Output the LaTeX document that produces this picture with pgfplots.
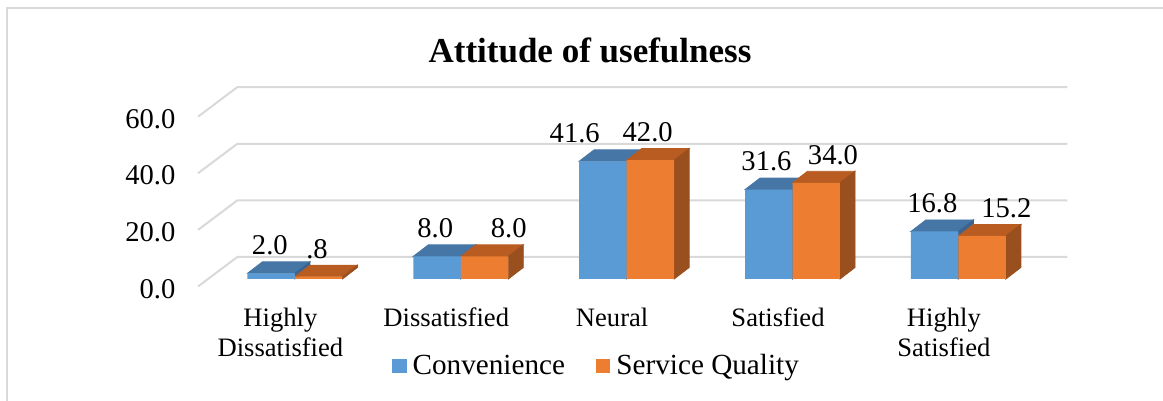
\documentclass[border=0pt]{standalone}
\usepackage{pgfplots}
\pgfplotsset{compat=1.18}
\usepackage{pgfplotstable}
\usepackage{fontspec}
\setmainfont{Liberation Serif}

\definecolor{convfront}{HTML}{5B9BD5}
\definecolor{convtop}{HTML}{4676A5}
\definecolor{convside}{HTML}{3B6491}
\definecolor{servfront}{HTML}{ED7D31}
\definecolor{servtop}{HTML}{B85C22}
\definecolor{servside}{HTML}{9A4F1E}
\definecolor{gridgray}{HTML}{D9D9D9}

\pgfdeclareplotmark{nothing}{}

% category index, Convenience, Service Quality
\pgfplotstableread{
x conv serv
0 2.0  0.8
1 8.0  8.0
2 41.6 42.0
3 31.6 34.0
4 16.8 15.2
}\usefulness

% label positions (as placed in the original chart)
\pgfplotstableread{
x      y    lab
-0.151 2.0  2.0
0.133  0.8  .8
0.846  8.0  8.0
1.289  8.0  8.0
1.687  41.6 41.6
2.127  42.0 42.0
2.843  31.6 31.6
3.244  34.0 34.0
3.843  16.8 16.8
4.289  15.2 15.2
}\labels

\begin{document}
\begin{tikzpicture}
\draw[gridgray, line width=1pt] (3.5pt,-2pt) -- (3.5pt,196.5pt) -- (584pt,196.5pt);
\node[anchor=base, font=\fontsize{17.5}{20}\selectfont\bfseries] at (295pt,169.2pt) {Attitude of usefulness};

\begin{axis}[
    at={(104.5pt,61pt)}, anchor=south west,
    scale only axis,
    width=415pt, height=84.9pt,
    xmin=-0.518, xmax=4.486,
    ymin=0, ymax=60,
    clip=false,
    clip marker paths=true,
    axis line style={draw=none},
    tick style={draw=none},
    major tick length=0pt,
    xtick={0,1,2,3,4},
    xticklabels={{Highly\\Dissatisfied},Dissatisfied,Neural,Satisfied,{Highly\\Satisfied}},
    xticklabel style={align=center, font=\fontsize{13.3}{15}\selectfont, xshift=-7.25pt, yshift=-11pt},
    ytick={0,20,40,60},
    /pgf/number format/assume math mode=true,
    yticklabel style={/pgf/number format/fixed, /pgf/number format/fixed zerofill,
        /pgf/number format/precision=1, font=\fontsize{14.3}{16}\selectfont,
        xshift=-13.25pt, yshift=-4.9pt},
    bar width=0.2861,
    legend columns=2,
    legend style={draw=none, fill=none, at={(0.4675,-0.512)}, anchor=center,
        font=\fontsize{14.6}{16}\selectfont,
        nodes={inner sep=1.5pt},
        /tikz/every odd column/.append style={column sep=1.5pt},
        /tikz/every even column/.append style={column sep=14pt}},
]
% floor and back wall grid
\pgfplotsinvokeforeach{0,20,40,60}{
  \draw[gridgray, line width=1pt]
    ([xshift=-5.5pt,yshift=-3.75pt]axis cs:-0.518,#1) --
    ([xshift=14.15pt,yshift=11pt]axis cs:-0.518,#1) --
    ([xshift=14.15pt,yshift=11pt]axis cs:4.486,#1);
}

% top and side faces
\addplot[scatter, only marks, mark=nothing, forget plot,
    visualization depends on={\thisrow{conv}\as\rawy},
    scatter/@pre marker code/.code={%
      \pgfmathsetlengthmacro\h{\rawy*1.415pt}%
      \fill[convtop] (-23.75pt,0pt) -- (0pt,0pt) -- (7.5pt,5.75pt) -- (-16.25pt,5.75pt) -- cycle;
      \fill[convside] (0pt,0pt) -- (7.5pt,5.75pt) -- (7.5pt,5.75pt-\h) -- (0pt,-\h) -- cycle;
    },
    scatter/@post marker code/.code={},
] table[x=x, y=conv] {\usefulness};
\addplot[scatter, only marks, mark=nothing, forget plot,
    visualization depends on={\thisrow{serv}\as\rawy},
    scatter/@pre marker code/.code={%
      \pgfmathsetlengthmacro\h{\rawy*1.415pt}%
      \fill[servtop] (0pt,0pt) -- (23.75pt,0pt) -- (31.25pt,5.75pt) -- (7.5pt,5.75pt) -- cycle;
      \fill[servside] (23.75pt,0pt) -- (31.25pt,5.75pt) -- (31.25pt,5.75pt-\h) -- (23.75pt,-\h) -- cycle;
    },
    scatter/@post marker code/.code={},
] table[x=x, y=serv] {\usefulness};

% front faces
\addplot[ybar, bar shift=-0.14305, fill=convfront, draw=none,
    legend image code/.code={\fill[convfront] (0pt,-3.6pt) rectangle (7.2pt,3.6pt);}]
    table[x=x, y=conv] {\usefulness};
\addplot[ybar, bar shift=0.14305, fill=servfront, draw=none,
    legend image code/.code={\fill[servfront] (0pt,-3.6pt) rectangle (7.2pt,3.6pt);}]
    table[x=x, y=serv] {\usefulness};

% value labels
\addplot[only marks, mark=nothing, forget plot,
    nodes near coords, point meta=explicit symbolic,
    nodes near coords style={anchor=base, inner sep=0pt, yshift=9.3pt,
        font=\fontsize{14.3}{16}\selectfont}]
    table[x=x, y=y, meta=lab] {\labels};

\legend{Convenience, Service Quality}
\end{axis}
\pgfresetboundingbox
\path[use as bounding box] (0pt,0pt) rectangle (581.5pt,200.5pt);
\end{tikzpicture}
\end{document}
